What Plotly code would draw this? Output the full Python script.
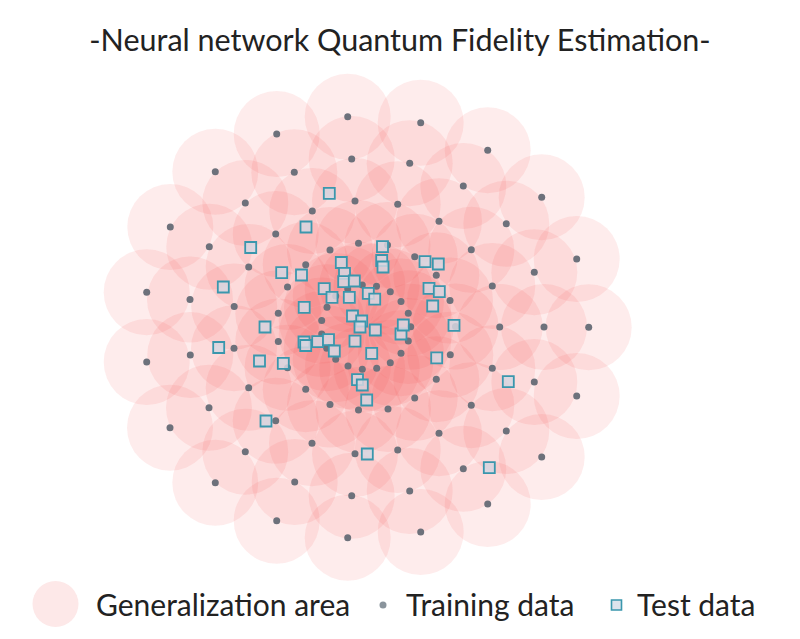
import plotly.graph_objects as go

# Training data (x, y), five rings of 19 points each
train_x = [
    44.0, 41.6, 34.3, 23.6, 9.8, -4.4, -19.0, -31.0, -39.7, -45.0, -45.0, -40.0, -31.0, -18.7, -4.4, 10.0, 23.6, 34.3, 41.6,
    88.8, 83.3, 69.6, 48.0, 20.8, -8.2, -36.7, -61.0, -79.2, -88.4, -88.4, -79.2, -61.0, -36.7, -8.2, 21.3, 48.0, 69.6, 83.6,
    133.0, 125.6, 104.6, 72.3, 31.0, -11.7, -54.4, -91.0, -118.0, -132.5, -132.7, -118.0, -91.0, -54.7, -11.7, 31.0, 72.3, 104.6, 125.6,
    177.3, 167.6, 139.6, 96.6, 43.0, -15.0, -72.4, -121.4, -157.4, -176.7, -176.4, -157.7, -121.4, -72.0, -15.0, 43.0, 96.6, 139.6, 167.6,
    222.0, 210.0, 175.0, 121.0, 54.0, -19.0, -90.0, -151.4, -196.4, -220.0, -220.0, -196.7, -151.4, -90.0, -19.0, 54.0, 121.0, 175.0, 210.0,
]
train_y = [
    0.3, 13.7, 25.5, 35.3, 40.7, 42.0, 38.0, 31.0, 19.7, 6.5, -7.0, -21.3, -32.3, -39.0, -42.3, -41.3, -35.7, -26.3, -14.0,
    0.5, 26.5, 51.7, 70.3, 82.0, 83.8, 77.0, 62.3, 40.0, 13.7, -14.5, -40.7, -62.3, -77.5, -83.0, -82.0, -71.0, -52.3, -27.7,
    0.0, 41.0, 77.3, 105.7, 122.7, 126.0, 116.0, 93.0, 60.0, 20.5, -21.3, -60.7, -93.7, -116.3, -126.7, -123.0, -106.3, -78.3, -41.3,
    0.0, 54.7, 103.3, 141.0, 163.7, 168.0, 154.7, 124.0, 80.3, 27.5, -28.0, -80.7, -124.7, -155.0, -168.7, -164.0, -141.7, -104.0, -55.0,
    -0.3, 68.0, 129.7, 176.7, 204.3, 210.3, 193.0, 155.3, 100.0, 34.7, -35.0, -100.7, -155.7, -193.7, -210.7, -205.0, -177.0, -130.0, -69.0,
]

# Test data (x, y)
test_x = [
    -37.4, -60.7, -116.0, 15.8, 15.0, 16.3, -25.4, -85.0, -65.2, -22.2, -23.0, -12.4, -143.4, -42.5, -34.7, -17.4,
    1.6, 8.0, -62.5, -14.2, -5.0, -6.7, -101.7, 8.6, 34.3, 36.6, -62.7, -61.0, -49.0, -38.2, -32.4, -11.7, 5.0,
    -148.0, -107.2, -83.4, -9.2, -4.4, 0.0, -100.7, 0.6, 58.3, 71.6, 62.3, 72.6, 66.0, 87.3, 70.0, 141.6, 122.6,
]
test_y = [
    133.7, 100.0, 79.5, 80.3, 66.5, 60.0, 64.5, 54.3, 52.0, 53.7, 45.3, 46.0, 40.0, 38.3, 29.7, 29.7,
    33.7, 27.8, 19.7, 11.0, 6.0, 0.0, 0.0, -3.0, -7.0, 2.0, -15.0, -18.5, -14.7, -12.7, -24.0, -14.2, -26.3,
    -20.5, -34.0, -36.3, -52.7, -58.0, -73.0, -94.0, -127.0, 65.3, 63.0, 38.7, 35.3, 21.0, 1.7, -30.8, -54.7, -140.7,
]

title_text = "-Neural network Quantum Fidelity Estimation-"
legend_labels = ["Generalization area", "Training data", "Test data"]

AREA_COLOR = "rgba(245,75,75,0.105)"
DOT_COLOR = "#6d717b"
SQ_LINE = "#3a97ad"
SQ_FILL = "rgba(214,214,224,0.85)"
FONT = "Lato"
TEXT_COLOR = "#222222"

fig = go.Figure()
fig.add_trace(go.Scatter(
    x=train_x, y=train_y, mode="markers", name=legend_labels[0],
    marker=dict(size=86, color=AREA_COLOR, line=dict(width=0)),
    hoverinfo="skip", showlegend=False,
))
fig.add_trace(go.Scatter(
    x=train_x, y=train_y, mode="markers", name=legend_labels[1],
    marker=dict(size=7, color=DOT_COLOR, line=dict(width=0)),
    showlegend=False,
))
fig.add_trace(go.Scatter(
    x=test_x, y=test_y, mode="markers", name=legend_labels[2],
    marker=dict(symbol="square", size=11, color=SQ_FILL, line=dict(width=1.8, color=SQ_LINE)),
    showlegend=False,
))

W, H = 800, 639


def px(xp):
    return xp / W


def py(yp):
    return 1 - yp / H


shapes = [
    dict(type="circle", xref="paper", yref="paper", xsizemode="pixel", ysizemode="pixel",
         xanchor=px(55.5), yanchor=py(604), x0=-23, x1=23, y0=-23, y1=23,
         fillcolor="rgba(253,232,232,1)", line=dict(width=0), layer="below"),
    dict(type="circle", xref="paper", yref="paper", xsizemode="pixel", ysizemode="pixel",
         xanchor=px(383), yanchor=py(605), x0=-3.5, x1=3.5, y0=-3.5, y1=3.5,
         fillcolor="#8a949c", line=dict(width=0)),
    dict(type="rect", xref="paper", yref="paper", xsizemode="pixel", ysizemode="pixel",
         xanchor=px(616.5), yanchor=py(605), x0=-5, x1=5, y0=-5, y1=5,
         fillcolor="#dde3ec", line=dict(width=1.6, color=SQ_LINE)),
]

legend_x = [94, 404, 635]
annotations = [
    dict(text=lab, x=px(lx), y=py(604), xref="paper", yref="paper",
         xanchor="left", yanchor="middle", showarrow=False,
         font=dict(family=FONT, size=30, color=TEXT_COLOR))
    for lab, lx in zip(legend_labels, legend_x)
]

fig.update_layout(
    width=W, height=H,
    margin=dict(l=0, r=0, t=0, b=0),
    paper_bgcolor="white", plot_bgcolor="white",
    title=dict(text=title_text, x=0.5, xanchor="center", y=py(40), yanchor="middle",
               yref="container", font=dict(family=FONT, size=30.5, color=TEXT_COLOR)),
    xaxis=dict(range=[-366.7, 433.3], visible=False, fixedrange=True),
    yaxis=dict(range=[-312, 327], visible=False, fixedrange=True),
    shapes=shapes, annotations=annotations,
    showlegend=False,
)

fig.write_html("out.html", config={"displayModeBar": False},
               post_script="document.body.style.margin='0px';")
